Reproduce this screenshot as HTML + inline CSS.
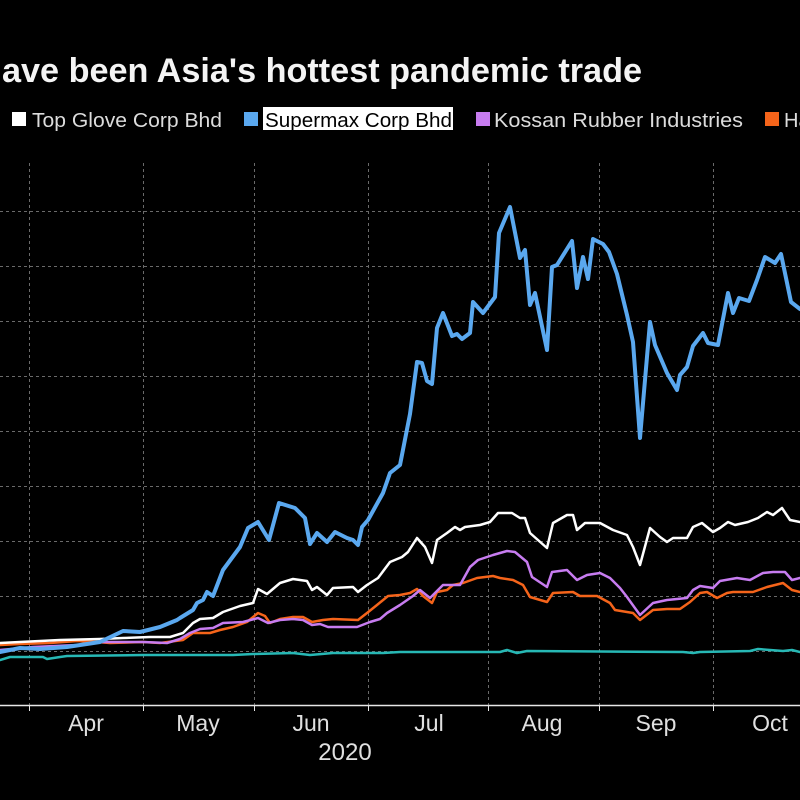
<!DOCTYPE html>
<html>
<head>
<meta charset="utf-8">
<style>
html,body{margin:0;padding:0;background:#000;}
svg{display:block;}
text{font-family:"Liberation Sans",sans-serif;}
</style>
</head>
<body>
<svg width="800" height="800" viewBox="0 0 800 800" xmlns="http://www.w3.org/2000/svg">
<rect x="0" y="0" width="800" height="800" fill="#000"/>

<!-- title -->
<text x="2" y="82" font-size="34" font-weight="bold" fill="#f4f4f4" textLength="640" lengthAdjust="spacingAndGlyphs">ave been Asia's hottest pandemic trade</text>

<!-- legend -->
<rect x="12" y="112" width="14" height="14" fill="#ffffff"/>
<text x="32" y="127" font-size="20" fill="#dcdcdc" textLength="190" lengthAdjust="spacingAndGlyphs">Top Glove Corp Bhd</text>
<rect x="244" y="112" width="14" height="14" fill="#5aa8ef"/>
<rect x="263" y="107" width="190" height="23" fill="#ffffff"/>
<text x="265" y="127" font-size="20" fill="#000" textLength="187" lengthAdjust="spacingAndGlyphs">Supermax Corp Bhd</text>
<rect x="476" y="112" width="14" height="14" fill="#c77cf0"/>
<text x="494" y="127" font-size="20" fill="#dcdcdc" textLength="249" lengthAdjust="spacingAndGlyphs">Kossan Rubber Industries</text>
<rect x="765" y="112" width="14" height="14" fill="#f5641a"/>
<text x="784" y="127" font-size="20" fill="#dcdcdc">Hartalega Holdings Bhd</text>

<!-- grid -->
<g stroke="#6a6a6a" stroke-width="1" stroke-dasharray="3,3" fill="none">
<line x1="0" y1="211.5" x2="800" y2="211.5"/>
<line x1="0" y1="266.5" x2="800" y2="266.5"/>
<line x1="0" y1="321.5" x2="800" y2="321.5"/>
<line x1="0" y1="376.5" x2="800" y2="376.5"/>
<line x1="0" y1="431.5" x2="800" y2="431.5"/>
<line x1="0" y1="486.5" x2="800" y2="486.5"/>
<line x1="0" y1="541.5" x2="800" y2="541.5"/>
<line x1="0" y1="596.5" x2="800" y2="596.5"/>
<line x1="0" y1="651.5" x2="800" y2="651.5"/>
<line x1="29.5" y1="163" x2="29.5" y2="705"/>
<line x1="143.5" y1="163" x2="143.5" y2="705"/>
<line x1="254.5" y1="163" x2="254.5" y2="705"/>
<line x1="368.5" y1="163" x2="368.5" y2="705"/>
<line x1="488.5" y1="163" x2="488.5" y2="705"/>
<line x1="599.5" y1="163" x2="599.5" y2="705"/>
<line x1="713.5" y1="163" x2="713.5" y2="705"/>
</g>

<!-- series -->
<g fill="none" stroke-linejoin="round" stroke-linecap="round">
<polyline stroke="#27b8b5" stroke-width="2.5" points="0,660 10,657 43,657 47,659 60,657 67,656 143,655 233,655 253,654 293,653 310,655 333,653 383,653 400,652 500,652 507,650 517,653 527,651 683,652 693,653 700,652 750,651 758,649 783,651 792,650 800,652"/>
<polyline stroke="#f5641a" stroke-width="2.5" points="0,645 20,644 50,643 77,641 97,642 110,643 143,642 160,643 183,640 193,633 210,633 220,630 233,627 247,622 258,613 265,616 270,623 280,619 293,617 303,617 312,622 323,620 333,619 358,620 367,613 377,605 388,596 400,595 410,593 417,589 423,596 432,603 437,592 447,590 453,585 463,583 477,578 493,576 500,578 513,580 523,585 530,597 547,602 553,593 573,592 580,596 597,596 610,603 615,610 633,613 640,620 653,610 667,609 680,609 690,602 700,593 707,592 717,598 727,593 733,592 753,592 767,587 783,583 792,590 800,592"/>
<polyline stroke="#c77cf0" stroke-width="2.5" points="0,650 33,647 77,645 100,642 143,642 167,643 180,639 190,633 200,629 213,628 223,623 243,622 258,618 268,623 280,620 293,619 303,620 312,625 320,624 328,627 357,627 370,622 380,619 387,613 400,605 413,596 420,590 430,598 443,585 460,585 470,567 478,560 493,555 507,551 515,552 527,562 532,577 547,587 552,572 567,570 577,580 587,575 600,573 610,578 620,588 627,597 640,615 653,603 667,600 687,598 693,590 700,586 713,588 720,581 737,578 750,580 763,573 773,572 785,572 792,580 800,578"/>
<polyline stroke="#ffffff" stroke-width="2.5" points="0,643 20,642 60,640 100,639 123,638 150,637 170,637 183,633 193,623 200,619 213,618 223,612 240,606 253,603 258,589 267,594 280,583 293,579 307,581 312,590 317,587 327,595 333,588 353,587 358,592 367,585 378,578 390,562 402,557 408,552 417,538 425,547 432,563 437,540 447,533 455,527 460,530 465,527 480,525 490,522 498,513 512,513 520,518 525,518 530,533 547,548 553,523 567,515 573,515 577,530 585,523 600,523 613,530 627,535 633,547 640,565 650,528 660,537 667,542 673,538 687,538 693,527 702,523 713,532 720,528 728,522 735,525 748,522 758,518 767,512 773,515 782,508 790,520 800,522"/>
<polyline stroke="#5aa8ef" stroke-width="4" points="0,652 20,648 40,649 67,647 100,642 123,631 140,632 160,627 177,620 180,618 193,610 197,603 203,600 207,592 213,596 223,570 240,547 248,528 258,522 269,540 279,503 295,508 305,518 310,544 317,533 327,542 335,532 347,538 353,540 358,545 362,527 368,520 383,493 390,473 400,465 410,414 417,362 422,363 427,381 432,384 437,328 443,313 452,336 457,334 462,339 470,333 473,302 483,313 495,297 499,233 510,207 520,258 525,250 530,305 535,293 547,350 552,267 557,265 572,241 577,288 583,257 588,279 593,239 603,244 609,252 617,274 627,315 633,342 640,438 650,322 655,345 667,373 677,390 680,375 687,367 693,346 703,333 708,343 718,345 728,293 733,313 739,298 749,301 757,280 765,257 775,263 781,254 791,302 800,309"/>
</g>

<!-- x axis -->
<line x1="0" y1="705.5" x2="800" y2="705.5" stroke="#e8e8e8" stroke-width="1.5"/>
<g stroke="#e8e8e8" stroke-width="1">
<line x1="29.5" y1="705" x2="29.5" y2="711"/>
<line x1="143.5" y1="705" x2="143.5" y2="711"/>
<line x1="254.5" y1="705" x2="254.5" y2="711"/>
<line x1="368.5" y1="705" x2="368.5" y2="711"/>
<line x1="488.5" y1="705" x2="488.5" y2="711"/>
<line x1="599.5" y1="705" x2="599.5" y2="711"/>
<line x1="713.5" y1="705" x2="713.5" y2="711"/>
</g>
<g font-size="23" fill="#e0e0e0" text-anchor="middle">
<text x="86" y="731">Apr</text>
<text x="198" y="731">May</text>
<text x="311" y="731">Jun</text>
<text x="429" y="731">Jul</text>
<text x="542" y="731">Aug</text>
<text x="656" y="731">Sep</text>
<text x="770" y="731">Oct</text>
<text x="345" y="760" font-size="24">2020</text>
</g>
</svg>
</body>
</html>
